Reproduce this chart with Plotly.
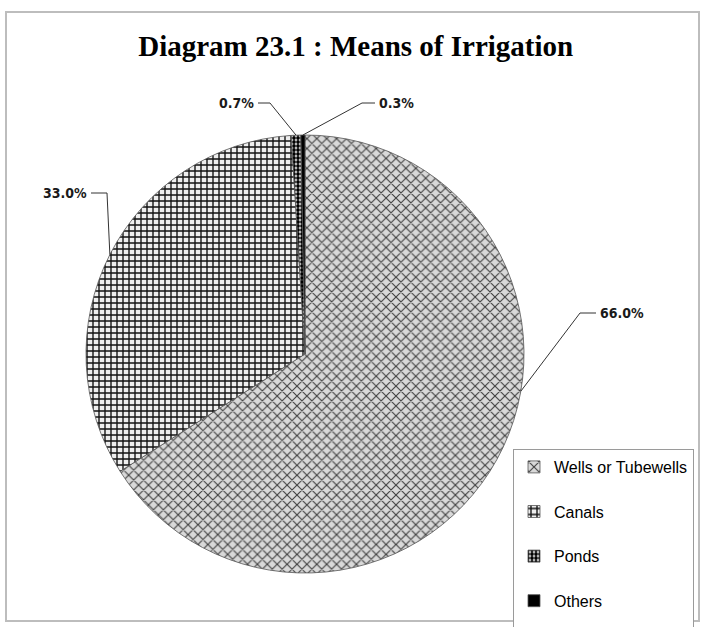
import math
import plotly.graph_objects as go

# ---- data ----
categories = ["Wells or Tubewells", "Canals", "Ponds", "Others"]
shares = [66.0, 33.0, 0.7, 0.3]
label_texts = ["66.0%", "33.0%", "0.7%", "0.3%"]

W, H = 703, 627
CX, CY, R = 305, 354, 219  # pie centre / radius in px (layout)

def px(x):
    return x / W

def py(y):
    return 1 - y / H

# pattern styles per slice
patterns = [
    dict(shape="x", fgcolor="#404040", bgcolor="#d9d9d9", size=7, solidity=0.3),
    dict(shape="+", fgcolor="#111111", bgcolor="#eeeeee", size=6, solidity=0.4),
    dict(shape=".", fgcolor="#000000", bgcolor="#ffffff", size=4, solidity=0.7),
    dict(shape="", fgcolor="#000000", bgcolor="#000000", size=6, solidity=1),
]

fig = go.Figure()
fig.add_trace(go.Pie(
    labels=[c + "<br>&nbsp;" for c in categories],
    values=shares,
    sort=False,
    direction="clockwise",
    rotation=0,
    textinfo="none",
    hoverinfo="label+percent",
    marker=dict(
        colors=["#d9d9d9", "#eeeeee", "#ffffff", "#000000"],
        pattern=dict(
            shape=[p["shape"] for p in patterns],
            fgcolor=[p["fgcolor"] for p in patterns],
            bgcolor=[p["bgcolor"] for p in patterns],
            size=[p["size"] for p in patterns],
            solidity=[p["solidity"] for p in patterns],
        ),
        line=dict(color="#555555", width=0.8),
    ),
    domain=dict(x=[px(CX - R), px(CX + R)], y=[py(CY + R), py(CY - R)]),
))

# leader lines: edge point computed from data, label placement is layout
total = sum(shares)
cum = 0
edge_pts = []
frac_in_slice = [0.42, 0.5, 0.5, 0.5]
for v, f in zip(shares, frac_in_slice):
    ang = (cum + v * f) / total * 2 * math.pi
    edge_pts.append((CX + R * math.sin(ang), CY - R * math.cos(ang)))
    cum += v

label_layout = [  # (text x, text y, anchor, elbow x, elbow y)
    (598, 313, "left", 580, 313),
    (89, 193, "right", 107, 193),
    (256, 103, "right", 270, 103),
    (377, 103, "left", 362, 103),
]

shapes = []
annotations = []
for txt, (tx, ty, anc, ex, ey), (ux, uy) in zip(label_texts, label_layout, edge_pts):
    sx = tx - 2 if anc == "left" else tx + 2
    path = f"M {px(sx)} {py(ty)} L {px(ex)} {py(ey)} L {px(ux)} {py(uy)}"
    shapes.append(dict(type="path", xref="paper", yref="paper", path=path,
                       line=dict(color="#333333", width=1)))
    annotations.append(dict(
        x=px(tx), y=py(ty), xref="paper", yref="paper", text=f"<b>{txt}</b>",
        showarrow=False, xanchor=anc, yanchor="middle",
        font=dict(family="DejaVu Sans Condensed, DejaVu Sans, sans-serif", size=14, color="#1a1a1a"),
    ))

# outer figure frame
shapes.append(dict(type="rect", xref="paper", yref="paper",
                   x0=px(6), x1=px(699), y0=py(621), y1=py(12),
                   line=dict(color="#bdbdbd", width=2)))

fig.update_layout(
    width=W, height=H,
    autosize=False,
    margin=dict(l=0, r=0, t=0, b=0, autoexpand=False),
    paper_bgcolor="white",
    plot_bgcolor="white",
    title=dict(
        text="<b>Diagram 23.1 : Means of Irrigation</b>",
        x=0.506, xanchor="center", y=py(46), yanchor="middle",
        font=dict(family="Liberation Serif, Times New Roman, serif", size=29, color="#000000"),
    ),
    showlegend=True,
    legend=dict(
        x=px(513), y=py(449), xanchor="left", yanchor="top",
        bordercolor="#9a9a9a", borderwidth=1, bgcolor="white",
        font=dict(family="Liberation Sans, Arial, sans-serif", size=16, color="#000000"),
        valign="top",
    ),
    shapes=shapes,
    annotations=annotations,
)

fig.write_html(
    "out.html",
    config={"displayModeBar": False, "responsive": False},
    post_script="document.body.style.margin='0px';document.body.style.overflow='hidden';",
)
